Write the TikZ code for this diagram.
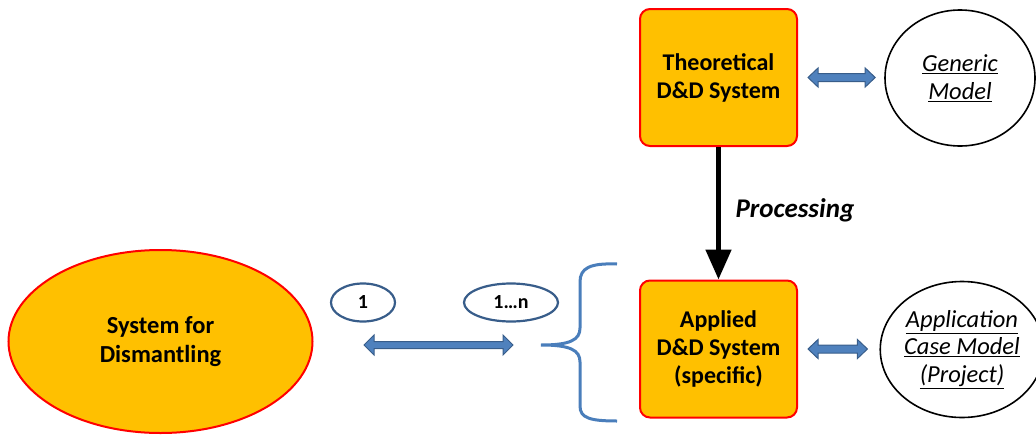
\documentclass[tikz,border=0pt]{standalone}
\usepackage{fontspec}
\setmainfont{Carlito}
\usetikzlibrary{shapes.geometric,arrows.meta,calc}
\definecolor{boxfill}{HTML}{FFC000}
\definecolor{boxline}{HTML}{FF0000}
\definecolor{arrfill}{HTML}{4F81BD}
\definecolor{arrline}{HTML}{385D8A}
\definecolor{bracecol}{HTML}{4A7EBB}
% horizontal block double arrow: #1 start, #2 end, #3 half shaft, #4 half head, #5 head length
\newcommand\hdblarrow[5]{\draw[arrline,fill=arrfill,line width=1pt,line join=miter]
  let \p1=(#1),\p2=(#2) in (\x1,\y1) -- (\x1+#5pt,\y1+#4pt) -- (\x1+#5pt,\y1+#3pt)
  -- (\x2-#5pt,\y1+#3pt) -- (\x2-#5pt,\y1+#4pt) -- (\x2,\y1) -- (\x2-#5pt,\y1-#4pt)
  -- (\x2-#5pt,\y1-#3pt) -- (\x1+#5pt,\y1-#3pt) -- (\x1+#5pt,\y1-#4pt) -- cycle;}
\begin{document}
\begin{tikzpicture}[x=1pt,y=-1pt,
  sysbox/.style={draw=boxline,fill=boxfill,line width=2pt,rounded corners=10pt,
    minimum width=157pt,minimum height=137pt,align=center,font=\fontsize{24}{28}\selectfont\bfseries,inner sep=0pt},
  model/.style={draw=black,line width=1.6pt,ellipse,inner sep=0pt,align=center,
    font=\fontsize{24.5}{28}\selectfont\itshape},
  card/.style={draw=arrline,line width=2.2pt,ellipse,inner sep=0pt,font=\fontsize{20}{22}\selectfont\bfseries},
]
\useasboundingbox (0,0) rectangle (1036,434);
\node[sysbox] (theo) at (718.5,77.5) {Theoretical\\D\&D System};
\node[sysbox] (appl) at (718.5,349) {Applied\\D\&D System\\(specific)};
\node[model,minimum width=150pt,minimum height=136pt] (gen) at (960,78) {\underline{Generic}\\\underline{Model}};
\node[model,minimum width=146pt,minimum height=136pt,font=\fontsize{24.5}{27.5}\selectfont\itshape] (app) at (962,349.5) {\underline{Application}\\\underline{Case Model}\\\underline{(Project)}};
\node[draw=boxline,fill=boxfill,line width=2pt,ellipse,minimum width=304pt,minimum height=183pt,
  align=center,font=\fontsize{24.5}{29}\selectfont\bfseries] (dis) at (160.5,341.5) {System for\\Dismantling};
\node[card,minimum width=64pt,minimum height=38pt] (c1) at (363,302.5) {1};
\node[card,minimum width=94pt,minimum height=38pt] (cn) at (511,302.5) {1…n};

\coordinate (a1s) at ($(theo.east)+(10,0)$);
\coordinate (a1e) at ($(gen.west)+(-9,0)$);
\coordinate (a2s) at ($(appl.east)+(10,0)$);
\coordinate (a2e) at ($(app.west)+(-12,0)$);
\coordinate (a3s) at (364,345);
\coordinate (a3e) at (513,345);
\hdblarrow{a1s}{a1e}{4}{9.5}{10}
\hdblarrow{a2s}{a2e}{4}{9.5}{10}
\hdblarrow{a3s}{a3e}{3.5}{10}{10}

\draw[line width=5pt,-{Triangle[width=25pt,length=30pt]}] (theo.south) -- (appl.north);
\node[anchor=west,font=\fontsize{27}{30}\selectfont\bfseries\itshape] (proc) at (732,210) {Processing};

\draw[bracecol,line width=3pt] (617,264) .. controls (590,263) and (580,268) .. (580,282)
  -- (580,328) .. controls (580,340) and (570,345) .. (541,345)
  .. controls (570,345) and (580,350) .. (580,362)
  -- (580,406) .. controls (580,418) and (590,421) .. (617,421);
\end{tikzpicture}
\end{document}
